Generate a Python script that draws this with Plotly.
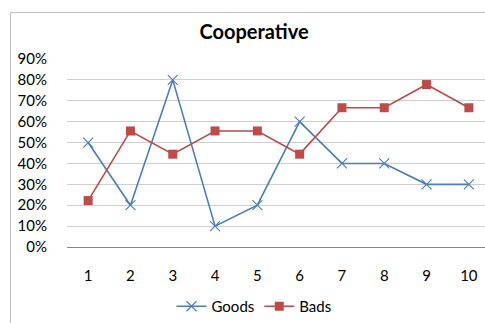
import plotly.graph_objects as go

categories = [1, 2, 3, 4, 5, 6, 7, 8, 9, 10]
goods = [0.50, 0.20, 0.80, 0.10, 0.20, 0.60, 0.40, 0.40, 0.30, 0.30]
bads = [2/9, 5/9, 4/9, 5/9, 5/9, 4/9, 6/9, 6/9, 7/9, 6/9]
y_ticks = [i / 10 for i in range(10)]

W, H = 485, 323
L, T, B = 67, 59, 72
plot_w = W - L
plot_h = H - T - B
step = 42.3

FONT = "Lato"

fig = go.Figure()
fig.add_trace(go.Scatter(
    x=categories, y=goods, name="Goods", mode="lines+markers",
    line=dict(color="#4A7EBB", width=1.6),
    marker=dict(symbol="x-thin", size=10, line=dict(color="#4A7EBB", width=1.1)),
))
fig.add_trace(go.Scatter(
    x=categories, y=bads, name="Bads", mode="lines+markers",
    line=dict(color="#BE4B48", width=1.6),
    marker=dict(symbol="square", size=9, color="#BE4B48"),
))

x_lo = 0.5
x_hi = x_lo + plot_w / step


def px_to_paper_x(px):
    return (px - L) / plot_w


def px_to_paper_y(py):
    return (H - B - py) / plot_h


# chart-area border (left/top visible, the rest falls outside the frame)
fig.add_shape(type="rect", xref="paper", yref="paper",
              x0=px_to_paper_x(10.5), x1=px_to_paper_x(W + 20),
              y0=px_to_paper_y(H + 20), y1=px_to_paper_y(11.5),
              line=dict(color="#BFBFBF", width=1), layer="below")

fig.update_layout(
    width=W, height=H,
    margin=dict(l=L, r=0, t=T, b=B, pad=0),
    paper_bgcolor="white", plot_bgcolor="white",
    title=dict(text="<b>Cooperative</b>", x=254 / W, xanchor="center",
               y=1 - 32 / H, yanchor="middle",
               font=dict(family=FONT, size=20, color="black")),
    font=dict(family=FONT, size=15, color="black"),
    xaxis=dict(range=[x_lo, x_hi], tickmode="array", tickvals=categories,
               ticktext=[str(c) for c in categories], showgrid=False,
               zeroline=False, showline=False, ticks="",
               ticklabelstandoff=18, tickfont=dict(size=15)),
    yaxis=dict(range=[0, 0.9], tickmode="array", tickvals=y_ticks,
               ticktext=[f"{int(round(v*100))}%" for v in y_ticks],
               showgrid=True, gridcolor="#D0D0D0", gridwidth=1,
               zeroline=True, zerolinecolor="#868686", zerolinewidth=1,
               showline=False, ticks="", ticklabelstandoff=19,
               tickfont=dict(size=15)),
    legend=dict(orientation="h", x=px_to_paper_x(254), xanchor="center",
                y=px_to_paper_y(312), yanchor="middle",
                font=dict(size=15), itemwidth=30,
                tracegroupgap=0, bgcolor="rgba(0,0,0,0)"),
    showlegend=True,
)

fig.write_html("out.html")
